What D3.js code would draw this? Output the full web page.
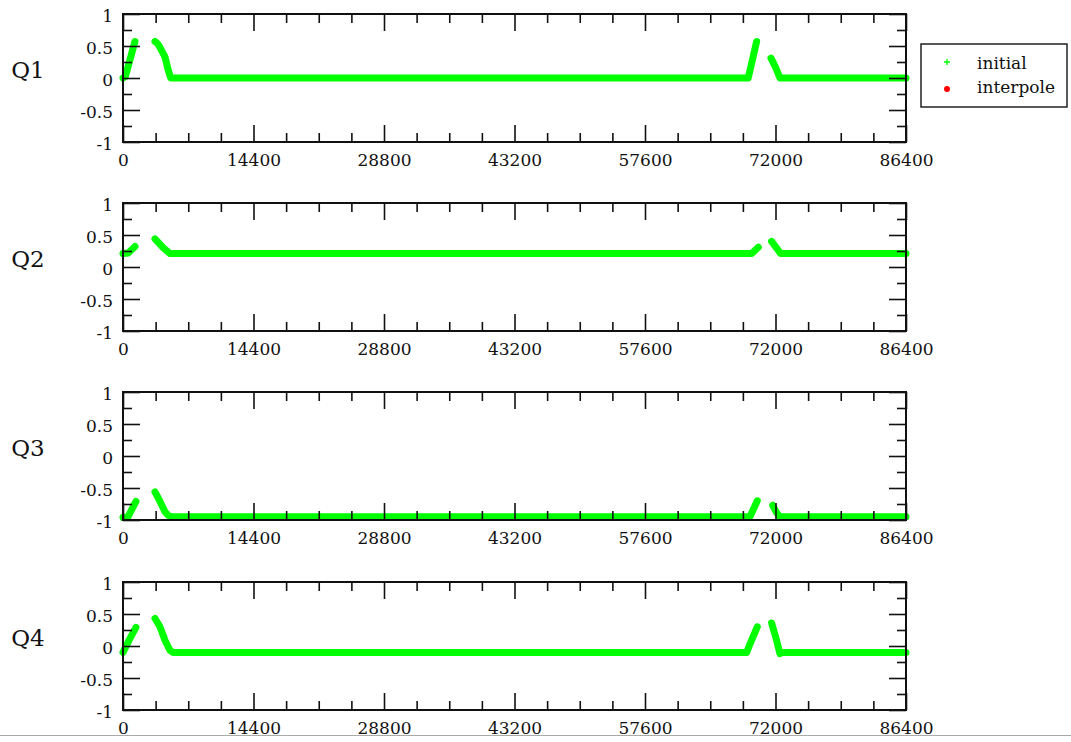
<!DOCTYPE html>
<html>
<head>
<meta charset="utf-8">
<script src="https://cdn.jsdelivr.net/npm/d3@7.9.0/dist/d3.min.js"></script>
<style>
  body { margin: 0; background: #fff; }
  svg { display: block; }
  .tick text { font-family: "DejaVu Serif", serif; font-size: 17px; fill: #111; }
  .tick line { stroke: #111; stroke-width: 1.6; }
</style>
</head>
<body>
<svg width="1071" height="742"></svg>
<script>
// panel names and axis ticks
const panelNames = ['Q1', 'Q2', 'Q3', 'Q4'];
const xMajor = [0, 14400, 28800, 43200, 57600, 72000, 86400];
const xMinor = [3600, 7200, 10800, 18000, 21600, 25200, 32400, 36000, 39600,
  46800, 50400, 54000, 61200, 64800, 68400, 75600, 79200, 82800];
const yMajor = [-1, -0.5, 0, 0.5, 1];
const yMinor = [-0.75, -0.25, 0.25, 0.75];
const legendLabels = ['initial', 'interpole'];

// series "initial": [time, value], split where points are missing
const q1 = [
  [[0, 0], [250, 0.02], [800, 0.3], [1320, 0.57]],
  [[3530, 0.57], [3800, 0.54], [4080, 0.48], [4630, 0.33], [5000, 0.12], [5260, 0], [68990, 0], [69450, 0.28], [69920, 0.57]],
  [[71500, 0.31], [72000, 0.17], [72490, 0], [86400, 0]]
];
const q2 = [
  [[0, 0.21], [580, 0.22], [1320, 0.32]],
  [[3530, 0.44], [4450, 0.3], [5190, 0.21], [69370, 0.21], [70100, 0.31]],
  [[71570, 0.4], [72100, 0.3], [72550, 0.21], [86400, 0.21]]
];
const q3 = [
  [[0, -0.96], [550, -0.95], [1430, -0.71]],
  [[3530, -0.56], [4080, -0.71], [4630, -0.87], [5000, -0.93], [5400, -0.95], [69180, -0.95], [69990, -0.7]],
  [[71690, -0.77], [72100, -0.88], [72490, -0.95], [86400, -0.95]]
];
const q4 = [
  [[0, -0.1], [700, 0.1], [1430, 0.29]],
  [[3530, 0.43], [4080, 0.3], [4630, 0.09], [5190, -0.07], [5500, -0.1], [68820, -0.1], [69180, 0.03], [69990, 0.3]],
  [[71570, 0.36], [72100, 0.1], [72490, -0.12], [72700, -0.1], [86400, -0.1]]
];
const allSeries = [q1, q2, q3, q4];

const svg = d3.select('svg');
const left = 123, right = 906;
const tops = [14, 203, 392, 582];
const h = 128;

const x = d3.scaleLinear().domain([0, 86400]).range([left, right]);

panelNames.forEach((name, i) => {
  const top = tops[i], bottom = top + h;
  const y = d3.scaleLinear().domain([-1, 1]).range([bottom, top]);
  const g = svg.append('g');

  // data
  const line = d3.line().x(d => x(d[0])).y(d => y(d[1]));
  allSeries[i].forEach(seg => {
    g.append('path')
      .attr('d', line(seg))
      .attr('fill', 'none')
      .attr('stroke', '#00ff00')
      .attr('stroke-width', 7)
      .attr('stroke-linejoin', 'round')
      .attr('stroke-linecap', 'round');
  });

  // bottom axis with labels, ticks pointing inside
  g.append('g').attr('transform', `translate(0,${bottom})`)
    .call(d3.axisBottom(x).tickValues(xMajor).tickSize(-17).tickPadding(12).tickFormat(d3.format('d')));
  g.append('g').attr('transform', `translate(0,${bottom})`)
    .call(d3.axisBottom(x).tickValues(xMinor).tickSize(-9).tickFormat(''));
  // top axis
  g.append('g').attr('transform', `translate(0,${top})`)
    .call(d3.axisTop(x).tickValues(xMajor).tickSize(-17).tickFormat(''));
  g.append('g').attr('transform', `translate(0,${top})`)
    .call(d3.axisTop(x).tickValues(xMinor).tickSize(-9).tickFormat(''));
  // left axis with labels
  const ly = g.append('g').attr('transform', `translate(${left},0)`)
    .call(d3.axisLeft(y).tickValues(yMajor).tickSize(-17).tickPadding(10).tickFormat(d => String(d)));
  ly.selectAll('text').attr('dy', '0.45em');
  g.append('g').attr('transform', `translate(${left},0)`)
    .call(d3.axisLeft(y).tickValues(yMinor).tickSize(-9).tickFormat(''));
  // right axis
  g.append('g').attr('transform', `translate(${right},0)`)
    .call(d3.axisRight(y).tickValues(yMajor).tickSize(-17).tickFormat(''));
  g.append('g').attr('transform', `translate(${right},0)`)
    .call(d3.axisRight(y).tickValues(yMinor).tickSize(-9).tickFormat(''));
  g.selectAll('.domain').remove();

  // frame
  g.append('rect')
    .attr('x', left).attr('y', top)
    .attr('width', right - left).attr('height', h)
    .attr('fill', 'none').attr('stroke', '#111').attr('stroke-width', 2);

  // panel name
  g.append('text')
    .attr('x', 28).attr('y', top + h / 2 - 8)
    .attr('dy', '0.36em')
    .attr('text-anchor', 'middle')
    .attr('font-family', 'DejaVu Serif, serif')
    .attr('font-size', 23)
    .attr('fill', '#111')
    .text(name);
});

// legend
const lg = svg.append('g');
lg.append('rect')
  .attr('x', 921).attr('y', 44).attr('width', 146).attr('height', 63)
  .attr('fill', '#fff').attr('stroke', '#222').attr('stroke-width', 1.5);
lg.append('path')
  .attr('transform', 'translate(947,62)')
  .attr('fill', 'none').attr('stroke', '#00ff00').attr('stroke-width', 1.3)
  .attr('d', 'M-3,0H3M0,-3V3');
lg.append('circle').attr('cx', 947).attr('cy', 89).attr('r', 3).attr('fill', '#ff0000');
legendLabels.forEach((t, i) => {
  lg.append('text')
    .attr('x', 977).attr('y', 69 + i * 24)
    .attr('font-family', 'DejaVu Serif, serif')
    .attr('font-size', 17)
    .attr('fill', '#111')
    .text(t);
});

// bottom edge line of the window
svg.append('line')
  .attr('x1', 0).attr('x2', 1071).attr('y1', 735.5).attr('y2', 735.5)
  .attr('stroke', '#aaa').attr('stroke-width', 1);
</script>
</body>
</html>
